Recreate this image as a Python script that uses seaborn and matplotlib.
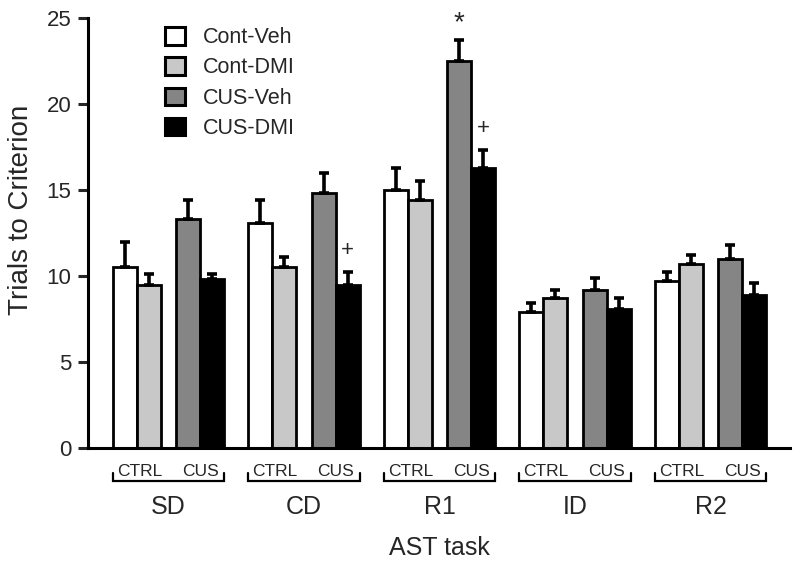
import numpy as np
import pandas as pd
import matplotlib
matplotlib.use("Agg")
import matplotlib.pyplot as plt
import matplotlib.transforms as mtransforms
from matplotlib.patches import Patch
import seaborn as sns

# --- Daten ---
tasks = ["SD", "CD", "R1", "ID", "R2"]
conditions = ["Cont-Veh", "Cont-DMI", "CUS-Veh", "CUS-DMI"]
pair_labels = ["CTRL", "CUS"]

cont_veh = [10.5, 13.1, 15.0, 7.9, 9.7]
cont_dmi = [9.5, 10.5, 14.4, 8.7, 10.7]
cus_veh = [13.3, 14.8, 22.5, 9.2, 11.0]
cus_dmi = [9.8, 9.5, 16.3, 8.1, 8.9]

cont_veh_sem = [1.5, 1.3, 1.3, 0.5, 0.5]
cont_dmi_sem = [0.6, 0.6, 1.1, 0.5, 0.5]
cus_veh_sem = [1.1, 1.2, 1.2, 0.7, 0.8]
cus_dmi_sem = [0.3, 0.7, 1.0, 0.6, 0.7]

# Signifikanz-Markierungen (task, condition) -> Zeichen
marks = {("R1", "CUS-Veh"): "*", ("R1", "CUS-DMI"): "+", ("CD", "CUS-DMI"): "+"}

colors = ["white", "#c8c8c8", "#858585", "black"]

# --- Layout: Balkenpositionen in Einheiten der Balkenbreite ---
group_step = 5.68
offsets = [0.5, 1.5, 3.1667, 4.1667]

means = [cont_veh, cont_dmi, cus_veh, cus_dmi]
sems = [cont_veh_sem, cont_dmi_sem, cus_veh_sem, cus_dmi_sem]

rows = []
for gi, task in enumerate(tasks):
    for ci, cond in enumerate(conditions):
        rows.append({
            "task": task,
            "cond": cond,
            "pos": round(gi * group_step + offsets[ci], 4),
            "val": means[ci][gi],
            "sem": sems[ci][gi],
        })
df = pd.DataFrame(rows)

sns.set_style("white")
plt.rcParams["font.family"] = ["Liberation Sans", "DejaVu Sans"]

fig = plt.figure(figsize=(8, 5.67), dpi=100)
ax = fig.add_axes([0.11, 0.21, 0.8775, 0.7584])

sns.barplot(data=df, x="pos", y="val", hue="cond", hue_order=conditions,
            palette=colors, native_scale=True, dodge=False, width=1.0,
            errorbar=None, edgecolor="black", linewidth=2.0, ax=ax, legend=False)

# Fehlerbalken nur nach oben
ax.errorbar(df["pos"], df["val"], yerr=[np.zeros(len(df)), df["sem"]],
            fmt="none", ecolor="black", elinewidth=2.6, capsize=3.5, capthick=2.6,
            zorder=1)

for _, r in df.iterrows():
    key = (r["task"], r["cond"])
    if key in marks:
        top = r["val"] + r["sem"]
        if marks[key] == "*":
            ax.text(r["pos"], top + 0.25, "*", ha="center", va="bottom", fontsize=20)
        else:
            ax.text(r["pos"], top + 1.3, "+", ha="center", va="center", fontsize=16)

# --- Achsen ---
ax.set_xlim(-1.04, 4 * group_step + 4.667 + 1.0)
ax.set_ylim(0, 25)
ax.set_yticks([0, 5, 10, 15, 20, 25])
ax.tick_params(axis="y", direction="out", length=7, width=2.2, labelsize=16, pad=5, left=True)
ax.tick_params(axis="x", bottom=False, labelbottom=False)
ax.set_xlabel("")
ax.set_ylabel("Trials to Criterion", fontsize=20)
ax.yaxis.set_label_coords(-0.077, 0.553)
for side in ["top", "right"]:
    ax.spines[side].set_visible(False)
for side in ["left", "bottom"]:
    ax.spines[side].set_linewidth(2.2)
    ax.spines[side].set_color("black")

# --- Gruppenbeschriftung unter der x-Achse ---
trans = mtransforms.blended_transform_factory(ax.transData, ax.transAxes)
for gi, task in enumerate(tasks):
    x0 = gi * group_step
    x1 = x0 + offsets[-1] + 0.5
    ax.plot([x0, x0, x1, x1], [-0.058, -0.077, -0.077, -0.058], color="black",
            lw=1.6, transform=trans, clip_on=False, solid_joinstyle="miter")
    ax.text(x0 + 1.12, -0.065, pair_labels[0], ha="center", va="baseline",
            fontsize=12.5, transform=trans)
    ax.text(x0 + 3.667, -0.065, pair_labels[1], ha="center", va="baseline",
            fontsize=12.5, transform=trans)
    ax.text((x0 + x1) / 2, -0.1535, task, ha="center", va="baseline",
            fontsize=18, transform=trans)

ax.text(0.5, -0.249, "AST task", ha="center", va="baseline", fontsize=18,
        transform=ax.transAxes)

# --- Legende ---
handles = [Patch(facecolor=c, edgecolor="black", linewidth=2.2) for c in colors]
ax.legend(handles, conditions, loc="upper left", bbox_to_anchor=(0.11, 0.978),
          frameon=False, fontsize=15.5, handlelength=0.93, handleheight=0.85,
          handletextpad=0.8, labelspacing=0.42, borderpad=0, borderaxespad=0)

fig.savefig("out.png", dpi=100)
